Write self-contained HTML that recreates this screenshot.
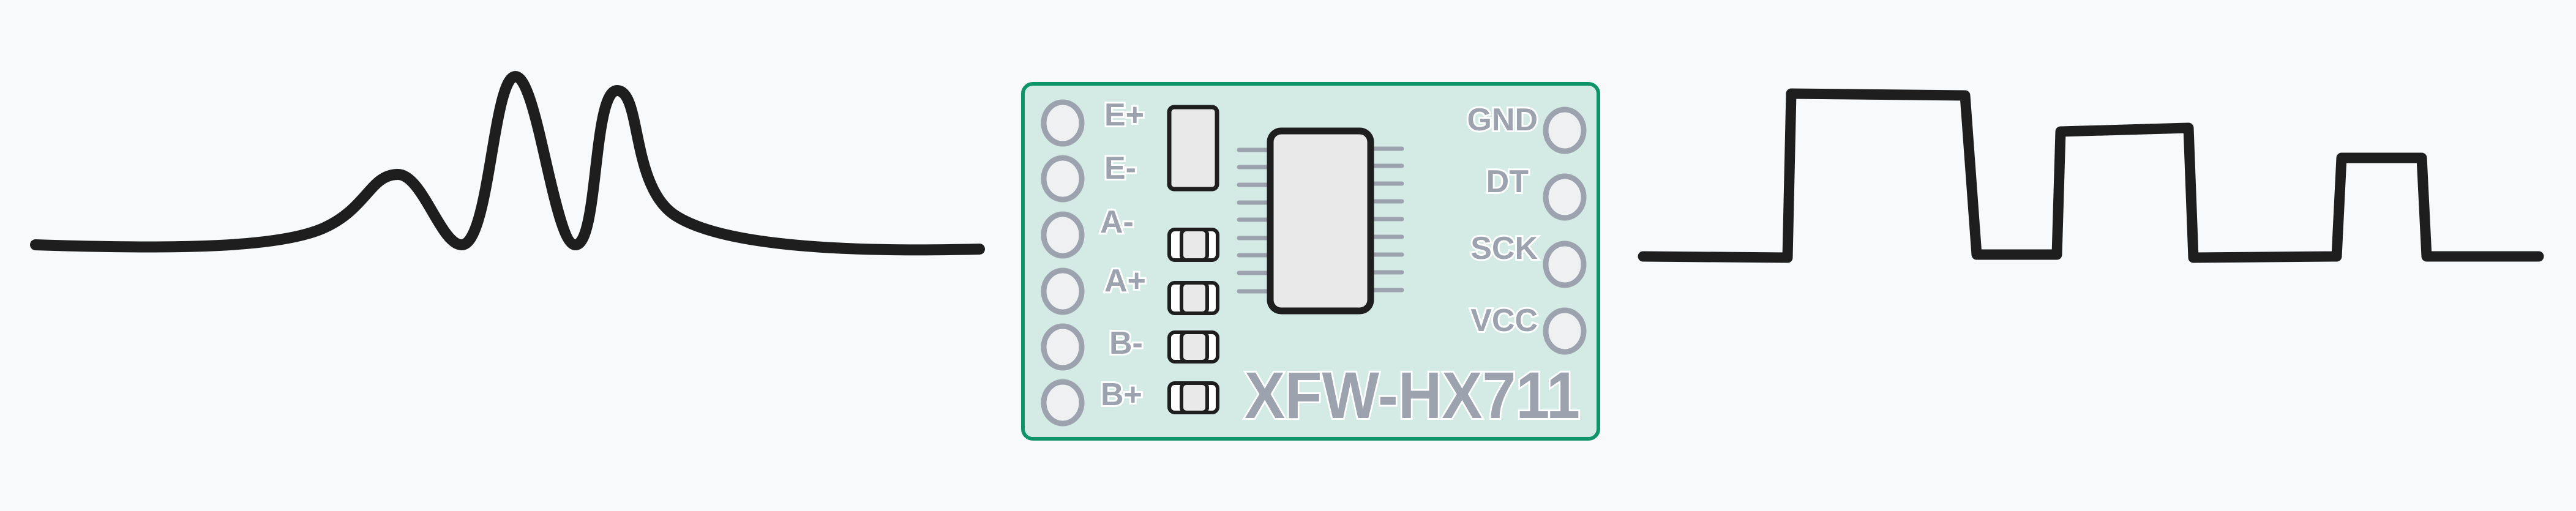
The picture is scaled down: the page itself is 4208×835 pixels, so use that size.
<!DOCTYPE html>
<html><head><meta charset="utf-8"><style>
html,body{margin:0;padding:0;background:#f8f9fb;}
svg{display:block}
.lbl{font-family:"Liberation Sans",sans-serif;font-weight:bold;fill:#9ca3af;stroke:#fff;stroke-width:6;paint-order:stroke;font-size:52px}
</style></head><body>
<svg width="4208" height="835" viewBox="0 0 4208 835" xmlns="http://www.w3.org/2000/svg">
<rect width="4208" height="835" fill="#f8f9fb"/>
<path d="M58,400 C300,408 460,404 530,372 C600,340 605,285 650,285 C690,285 720,400 754,400 C800,400 805,125 842,125 C878,125 905,400 940,400 C978,400 968,148 1008,148 C1048,148 1030,300 1100,350 C1180,405 1400,412 1600,407" fill="none" stroke="#1e1e1e" stroke-width="18" stroke-linecap="round" stroke-linejoin="round"/>
<path d="M2684,419 L2920,421 L2926,153 L3210,156 L3229,416 L3360,416 L3366,215 L3575,209 L3583,421 L3817,419 L3825,258 L3956,258 L3964,419 L4147,419" fill="none" stroke="#1e1e1e" stroke-width="17" stroke-linecap="round" stroke-linejoin="round"/>
<rect x="1671" y="137" width="940" height="580" rx="16" fill="#d3ebe4" stroke="#0e9468" stroke-width="6"/>
<g fill="#eef0f2" stroke="#9ca3af" stroke-width="9">
<ellipse cx="1736" cy="201" rx="31" ry="34"/>
<ellipse cx="1736" cy="292" rx="31" ry="34"/>
<ellipse cx="1736" cy="384" rx="31" ry="34"/>
<ellipse cx="1736" cy="476" rx="31" ry="34"/>
<ellipse cx="1736" cy="567" rx="31" ry="34"/>
<ellipse cx="1736" cy="658" rx="31" ry="34"/>
<ellipse cx="2556" cy="213" rx="31" ry="34"/>
<ellipse cx="2556" cy="322" rx="31" ry="34"/>
<ellipse cx="2556" cy="432" rx="31" ry="34"/>
<ellipse cx="2556" cy="541" rx="31" ry="34"/>
</g>
<g class="lbl">
<text x="1804" y="205">E+</text>
<text x="1804" y="292">E-</text>
<text x="1797" y="380">A-</text>
<text x="1804" y="476">A+</text>
<text x="1812" y="578">B-</text>
<text x="1798" y="662">B+</text>
<text x="2512" y="213" text-anchor="end">GND</text>
<text x="2497" y="314" text-anchor="end">DT</text>
<text x="2512" y="423" text-anchor="end">SCK</text>
<text x="2512" y="541" text-anchor="end">VCC</text>
</g>
<g stroke="#9ca3af" stroke-width="7" stroke-linecap="round">
<path d="M2024,245H2070M2024,273H2070M2024,302H2070M2024,331H2070M2024,359H2070M2024,389H2070M2024,417H2070M2024,446H2070M2024,476H2070"/>
<path d="M2243,243H2290M2243,271H2290M2243,300H2290M2243,329H2290M2243,358H2290M2243,387H2290M2243,416H2290M2243,445H2290M2243,474H2290"/>
</g>
<rect x="2075" y="214" width="164" height="294" rx="18" fill="#e9e9e9" stroke="#1e1e1e" stroke-width="11"/>
<rect x="1910" y="175" width="78" height="134" rx="8" fill="#e9e9e9" stroke="#1e1e1e" stroke-width="7"/>
<g stroke="#1e1e1e" stroke-width="6">
<rect x="1910" y="375" width="79" height="50" rx="9" fill="#fff"/><rect x="1930" y="375" width="42" height="50" rx="8" fill="#e9e9e9"/>
<rect x="1910" y="462" width="79" height="50" rx="9" fill="#fff"/><rect x="1930" y="462" width="42" height="50" rx="8" fill="#e9e9e9"/>
<rect x="1910" y="543" width="79" height="48" rx="9" fill="#fff"/><rect x="1930" y="543" width="42" height="48" rx="8" fill="#e9e9e9"/>
<rect x="1910" y="626" width="79" height="48" rx="9" fill="#fff"/><rect x="1930" y="626" width="42" height="48" rx="8" fill="#e9e9e9"/>
</g>
<text x="2033" y="683" textLength="548" lengthAdjust="spacingAndGlyphs" style="font-family:'Liberation Sans',sans-serif;font-weight:bold;font-size:108px;fill:#9ca3af;stroke:#fff;stroke-width:6;paint-order:stroke">XFW-HX711</text>
</svg>
</body></html>
